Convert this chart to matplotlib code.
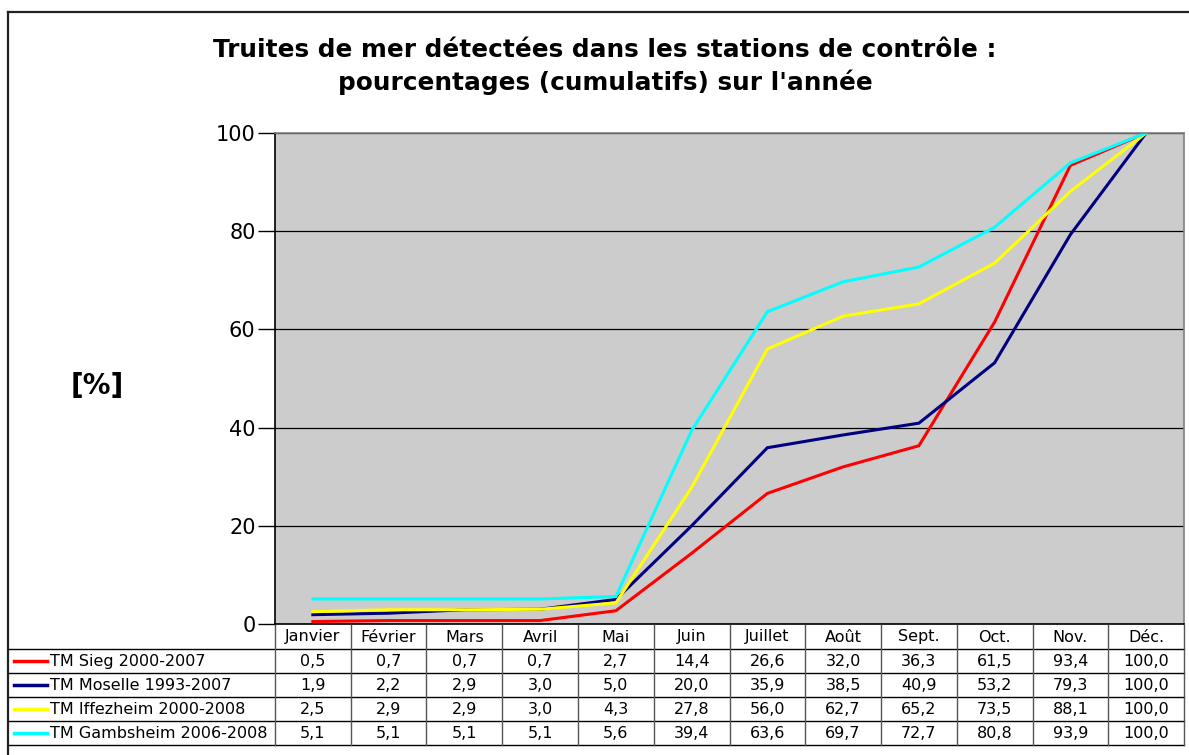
import matplotlib
matplotlib.use('Agg')
import matplotlib.pyplot as plt

# data
months = ['Janvier', 'Février', 'Mars', 'Avril', 'Mai', 'Juin', 'Juillet',
          'Août', 'Sept.', 'Oct.', 'Nov.', 'Déc.']

series_names = ['TM Sieg 2000-2007', 'TM Moselle 1993-2007',
                'TM Iffezheim 2000-2008', 'TM Gambsheim 2006-2008']

sieg = [0.5, 0.7, 0.7, 0.7, 2.7, 14.4, 26.6, 32.0, 36.3, 61.5, 93.4, 100.0]
moselle = [1.9, 2.2, 2.9, 3.0, 5.0, 20.0, 35.9, 38.5, 40.9, 53.2, 79.3, 100.0]
iffezheim = [2.5, 2.9, 2.9, 3.0, 4.3, 27.8, 56.0, 62.7, 65.2, 73.5, 88.1, 100.0]
gambsheim = [5.1, 5.1, 5.1, 5.1, 5.6, 39.4, 63.6, 69.7, 72.7, 80.8, 93.9, 100.0]

series_colors = ['#ff0000', '#000080', '#ffff00', '#00ffff']

W, H = 1189, 755


def fx(px):
    return px / W


def fy(py):
    return 1 - py / H


def fmt(v):
    return f'{v:.1f}'.replace('.', ',')


def main():
    fig = plt.figure(figsize=(W / 100, H / 100), dpi=100)

    all_series = [sieg, moselle, iffezheim, gambsheim]
    n = len(months)
    xs = [i + 0.5 for i in range(n)]

    # outer frame
    fig.add_artist(plt.Line2D([fx(8), fx(8)], [fy(12), fy(760)], color='#222222', lw=1.6))
    fig.add_artist(plt.Line2D([fx(8), fx(1188)], [fy(12), fy(12)], color='#222222', lw=1.6))

    # plot area
    ax = fig.add_axes([fx(275), fy(624), fx(1184) - fx(275), fy(133) - fy(624)])
    ax.set_facecolor('#cccccc')
    for vals, color in zip(all_series, series_colors):
        ax.plot(xs, vals, color=color, lw=2.2, solid_joinstyle='miter')
    ax.set_xlim(0, n)
    ax.set_ylim(0, 100)
    ax.set_yticks(range(0, 101, 20))
    ax.set_xticks([])
    ax.tick_params(axis='y', length=12, width=1, labelsize=15, pad=2)
    ax.yaxis.grid(True, color='black', lw=0.9)
    ax.set_axisbelow(True)
    ax.spines['left'].set_color('black')
    ax.spines['bottom'].set_color('black')
    ax.spines['top'].set_color('#808080')
    ax.spines['right'].set_color('#808080')
    for s in ax.spines.values():
        s.set_linewidth(1.2)

    fig.text(fx(605), fy(50), 'Truites de mer détectées dans les stations de contrôle :',
             ha='center', va='center', fontsize=17.8, fontweight='bold')
    fig.text(fx(605), fy(82), "pourcentages (cumulatifs) sur l'année",
             ha='center', va='center', fontsize=17.8, fontweight='bold')
    fig.text(fx(97), fy(386), '[%]', ha='center', va='center',
             fontsize=20, fontweight='bold')

    # data table under the plot
    lab_w = (275 - 8) / ((1184 - 275) / n)
    tab = fig.add_axes([fx(8), fy(745), fx(1184) - fx(8), fy(625) - fy(745)])
    tab.set_xlim(-lab_w, n)
    tab.set_ylim(5, 0)
    tab.axis('off')

    # grid of the table
    for r in range(1, 6):
        tab.plot([-lab_w, n], [r, r], color='black', lw=1, clip_on=False)
    for c in range(0, n + 1):
        tab.plot([c, c], [0, 5], color='#555555', lw=1, clip_on=False)
    tab.plot([-lab_w, -lab_w], [1, 5], color='#555555', lw=1.2, clip_on=False)

    for i, m in enumerate(months):
        tab.text(i + 0.5, 0.5, m, ha='center', va='center', fontsize=11.5)

    for r, (name, vals, color) in enumerate(zip(series_names, all_series, series_colors)):
        y = r + 1.5
        tab.plot([-lab_w + 0.08, -lab_w + 0.52], [y, y], color=color, lw=2.5, clip_on=False)
        tab.text(-lab_w + 0.55, y + 0.04, name, ha='left', va='center', fontsize=11.5)
        for i, v in enumerate(vals):
            tab.text(i + 0.5, y + 0.04, fmt(v), ha='center', va='center', fontsize=11.5)

    fig.savefig('out.png', dpi=100)


if __name__ == '__main__':
    main()
